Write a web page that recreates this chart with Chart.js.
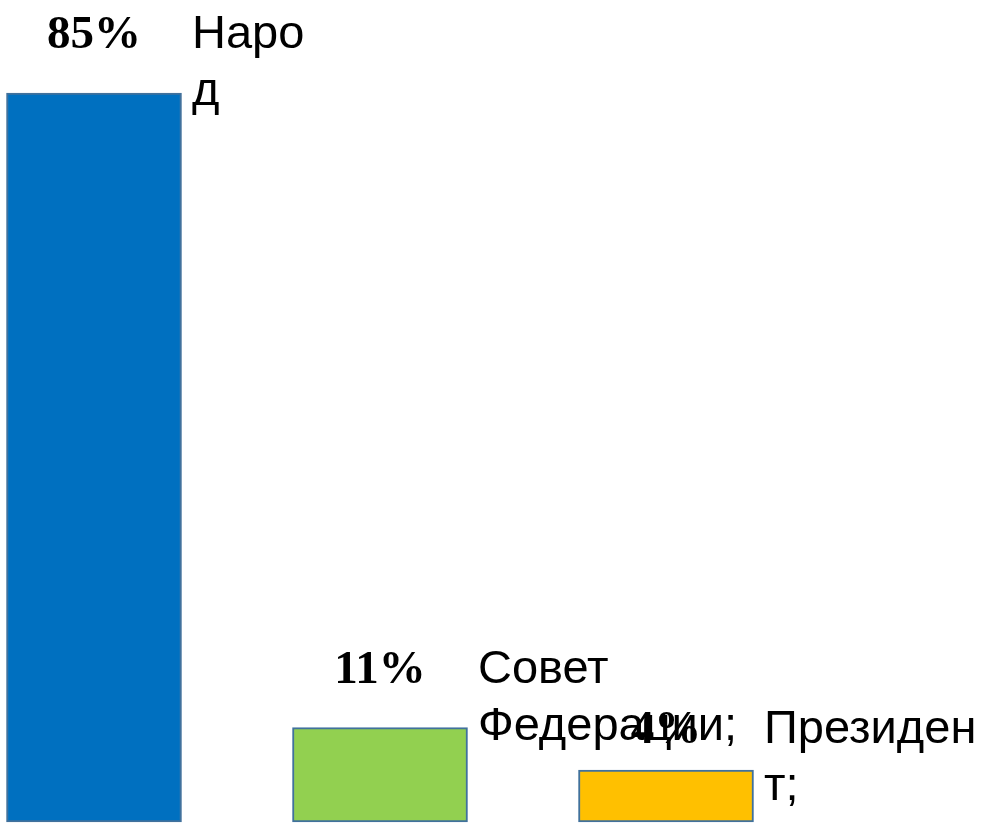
<!DOCTYPE html>
<html>
<head>
<meta charset="utf-8">
<script src="https://cdn.jsdelivr.net/npm/chart.js@4"></script>
<style>
  html, body { margin: 0; padding: 0; background: #fff; }
  #wrap { width: 999px; height: 828px; }
</style>
</head>
<body>
<div id="wrap"><canvas id="chart"></canvas></div>
<script>
const categories = [["Наро", "д"], ["Совет", "Федерации;"], ["Президен", "т;"]];
const shares = [85, 11, 4];
const valueLabels = ["85%", "11%", "4%"];
const barColors = ["#0070C0", "#92D050", "#FFC000"];

// draws the percent label over each bar and the category name to its right
const barLabels = {
  id: "barLabels",
  afterDatasetsDraw(chart) {
    const ctx = chart.ctx;
    const yScale = chart.scales.y;
    const bars = chart.getDatasetMeta(0).data;
    ctx.save();
    ctx.fillStyle = "#000";
    ctx.textBaseline = "alphabetic";
    bars.forEach((bar, i) => {
      const baseY = yScale.getPixelForValue(shares[i]) - 45;
      ctx.font = "bold 47px 'Liberation Serif', 'Times New Roman', serif";
      ctx.textAlign = "center";
      ctx.fillText(valueLabels[i], bar.x, baseY);
      ctx.font = "47px 'Liberation Sans', Arial, sans-serif";
      ctx.textAlign = "left";
      categories[i].forEach((line, j) => {
        ctx.fillText(line, bar.x + 98, baseY + j * 57);
      });
    });
    ctx.restore();
  }
};

new Chart(document.getElementById("chart"), {
  type: "bar",
  data: {
    labels: categories.map(c => c.join("")),
    datasets: [{
      data: shares,
      backgroundColor: barColors,
      borderColor: "#41719C",
      borderWidth: 2,
      borderSkipped: false,
      barThickness: 175,
      minBarLength: 52,
      clip: false
    }]
  },
  options: {
    responsive: true,
    maintainAspectRatio: false,
    animation: false,
    layout: { padding: { left: 94, right: 333, top: 93, bottom: 6 } },
    plugins: {
      legend: { display: false },
      tooltip: { enabled: false }
    },
    scales: {
      x: { display: false, offset: false, grid: { display: false } },
      y: { display: false, min: 0, max: 85, grid: { display: false } }
    }
  },
  plugins: [barLabels]
});
</script>
</body>
</html>
